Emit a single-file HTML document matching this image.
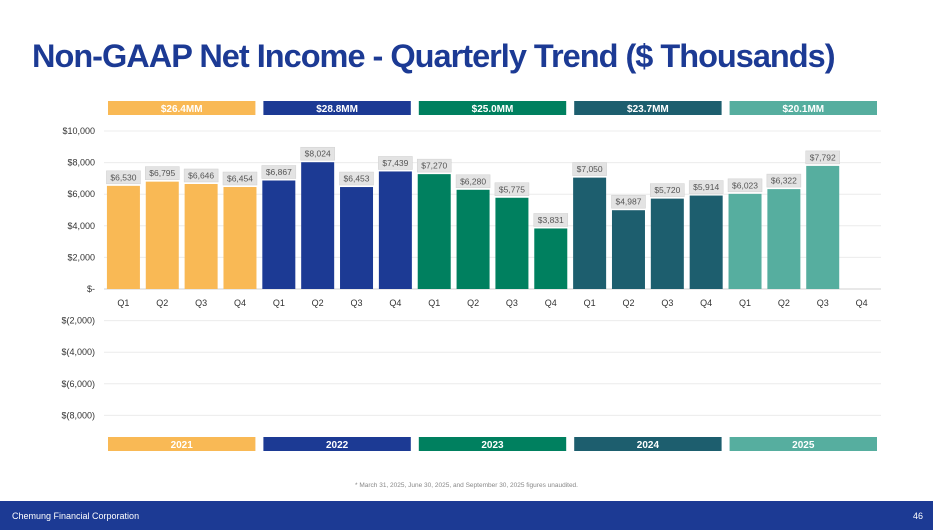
<!DOCTYPE html>
<html><head><meta charset="utf-8"><style>
body{margin:0;width:933px;height:530px;background:#fff;overflow:hidden;font-family:"Liberation Sans",sans-serif;position:relative}
#title{position:absolute;left:32px;top:38px;font-size:32.5px;font-weight:bold;color:#1c3a94;letter-spacing:-1px}
#foot{position:absolute;left:0;top:501px;width:933px;height:29px;background:#1c3a94;color:#fff;font-size:9px}
#note{position:absolute;left:0;width:933px;top:482px;text-align:center;font-size:6.5px;color:#888}
</style></head><body>
<div id="title">Non-GAAP Net Income - Quarterly Trend ($ Thousands)</div>
<svg id="chart" width="933" height="500" style="position:absolute;left:0;top:0"></svg>
<div id="note">* March 31, 2025, June 30, 2025, and September 30, 2025 figures unaudited.</div>
<div id="foot"><span style="position:absolute;left:12px;top:10px">Chemung Financial Corporation</span><span style="position:absolute;right:10px;top:10px">46</span></div>
<script>
const years=["2021","2022","2023","2024","2025"];
const yearTotals=["$26.4MM","$28.8MM","$25.0MM","$23.7MM","$20.1MM"];
const yearColors=["#f9b955","#1c3a94","#00805f","#1d5e6e","#56ae9f"];
const quarters=["Q1","Q2","Q3","Q4"];
const values=[6530,6795,6646,6454,6867,8024,6453,7439,7270,6280,5775,3831,7050,4987,5720,5914,6023,6322,7792,null];
const ticks=[10000,8000,6000,4000,2000,0,-2000,-4000,-6000,-8000];
const tickLabels=["$10,000","$8,000","$6,000","$4,000","$2,000","$-","$(2,000)","$(4,000)","$(6,000)","$(8,000)"];
const svg=document.getElementById('chart');const NS="http://www.w3.org/2000/svg";
const x0=104,slot=38.85,y0=289,scale=15.8/1000;
const y=v=>y0-v*scale;const xs=i=>x0+i*slot;
function mk(t,a,txt){const e=document.createElementNS(NS,t);for(const k in a)e.setAttribute(k,a[k]);if(txt!=null)e.textContent=txt;svg.appendChild(e);return e;}
const fmt=v=>"$"+v.toLocaleString("en-US");
ticks.forEach((t,i)=>{
 const g=mk('line',{x1:x0,x2:881,y1:y(t),y2:y(t),stroke:t===0?'#d0d0d0':'#ececec','stroke-width':1});
 
 
 const l=mk('text',{x:95,y:y(t)+3,'text-anchor':'end','font-size':9,fill:'#333'},tickLabels[i]);
 
 
});
years.forEach((yr,k)=>{
 const bx=xs(k*4)+4,bw=slot*4-8;
 const t=mk('rect',{x:bx,y:101,width:bw,height:14,fill:yearColors[k]});
 
 
 const tt=mk('text',{x:bx+bw/2,y:112,'text-anchor':'middle','font-size':10,'font-weight':'bold',fill:'#fff'},yearTotals[k]);
 
 
 const b=mk('rect',{x:bx,y:437,width:bw,height:14,fill:yearColors[k]});
 
 
 const bt=mk('text',{x:bx+bw/2,y:448,'text-anchor':'middle','font-size':10,'font-weight':'bold',fill:'#fff'},yr);
 
 
});
values.forEach((v,i)=>{
 const cx=xs(i)+slot/2;
 const q=mk('text',{x:cx,y:306,'text-anchor':'middle','font-size':9,fill:'#333'},quarters[i%4]);
 
 
 if(v==null)return;
 const r=mk('rect',{x:cx-16.5,y:y(v),width:33,height:y(0)-y(v),fill:yearColors[Math.floor(i/4)]});
 
 
 const ly=y(v)-4;
 const bg=mk('rect',{x:cx-17,y:ly-11,width:34,height:13,fill:'#e3e3e3',stroke:'#cfcfcf','stroke-width':0.5});
 
 
 const lt=mk('text',{x:cx,y:ly-1.5,'text-anchor':'middle','font-size':8.5,fill:'#555'},fmt(v));
 
 
});
</script>
</body></html>
